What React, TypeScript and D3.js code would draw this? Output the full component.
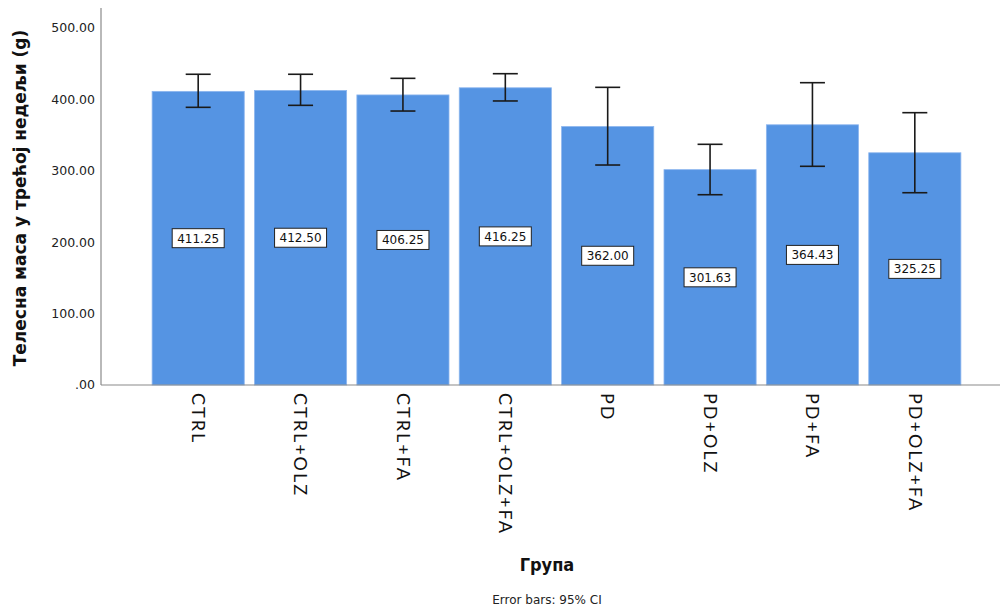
import React from "react";
import * as d3 from "d3";

const groups = ["CTRL", "CTRL+OLZ", "CTRL+FA", "CTRL+OLZ+FA", "PD", "PD+OLZ", "PD+FA", "PD+OLZ+FA"];
const means = [411.25, 412.5, 406.25, 416.25, 362.0, 301.63, 364.43, 325.25];
const ciLow = [388.9, 391.7, 383.7, 397.8, 308.1, 266.5, 306.3, 269.3];
const ciHigh = [435.2, 435.2, 429.5, 436.0, 416.9, 337.1, 423.4, 381.4];
const yTicks = [0, 100, 200, 300, 400, 500];

const width = 1002;
const height = 610;
const axisX = 101;
const axisY = 385;

const App = () => {
  const x = d3
    .scaleBand()
    .domain(groups)
    .range([147, 966])
    .paddingInner(0.1)
    .paddingOuter(0.05);

  const y = d3.scaleLinear().domain([0, 500]).range([axisY, 28]);

  const fmt = (v: number) => (v === 0 ? ".00" : v.toFixed(2));
  const bw = x.bandwidth();

  return (
    <svg width={width} height={height} style={{ position: "absolute", left: 0, top: 0 }}>
      <rect width={width} height={height} fill="#fff" />

      {/* bars */}
      {groups.map((g, i) => (
        <rect
          key={g}
          x={x(g)}
          y={y(means[i])}
          width={bw}
          height={axisY - y(means[i])}
          fill="#5594e3"
          stroke="#8db6ee"
          strokeWidth={0.8}
        />
      ))}

      {/* axes */}
      <line x1={axisX} x2={axisX} y1={8} y2={axisY} stroke="#8a8a8a" strokeWidth={1.2} />
      <line x1={axisX} x2={1000} y1={axisY} y2={axisY} stroke="#8a8a8a" strokeWidth={1.2} />

      {yTicks.map((t) => (
        <text
          key={t}
          x={95}
          y={y(t)}
          dy="0.35em"
          textAnchor="end"
          fontFamily="DejaVu Sans"
          fontSize={12.5}
          fill="#222"
        >
          {fmt(t)}
        </text>
      ))}

      {/* error bars */}
      {groups.map((g, i) => {
        const cx = (x(g) as number) + bw / 2;
        return (
          <g key={"e" + g} stroke="#1a1a1a" strokeWidth={1.6}>
            <line x1={cx} x2={cx} y1={y(ciHigh[i])} y2={y(ciLow[i])} />
            <line x1={cx - 12.5} x2={cx + 12.5} y1={y(ciHigh[i])} y2={y(ciHigh[i])} />
            <line x1={cx - 12.5} x2={cx + 12.5} y1={y(ciLow[i])} y2={y(ciLow[i])} />
          </g>
        );
      })}

      {/* value labels */}
      {groups.map((g, i) => {
        const cx = (x(g) as number) + bw / 2;
        const cy = y(means[i] / 2);
        return (
          <g key={"l" + g}>
            <rect x={cx - 26} y={cy - 9.5} width={52} height={19} fill="#fff" stroke="#222" strokeWidth={1} />
            <text
              x={cx}
              y={cy}
              dy="0.36em"
              textAnchor="middle"
              fontFamily="DejaVu Sans"
              fontSize={12}
              fill="#111"
            >
              {means[i].toFixed(2)}
            </text>
          </g>
        );
      })}

      {/* x tick labels */}
      {groups.map((g) => {
        const cx = (x(g) as number) + bw / 2;
        return (
          <text
            key={"t" + g}
            transform={`translate(${cx},393) rotate(90)`}
            dy="0.35em"
            textAnchor="start"
            fontFamily="Lato"
            fontSize={18}
            letterSpacing={2}
            fill="#111"
          >
            {g}
          </text>
        );
      })}

      {/* titles */}
      <text
        transform={`translate(20,198) rotate(-90)`}
        dy="0.35em"
        textAnchor="middle"
        fontFamily="DejaVu Sans"
        fontWeight="bold"
        fontSize={17}
        fill="#111"
      >
        Телесна маса у трећој недељи (g)
      </text>
      <text
        x={547}
        y={565}
        dy="0.35em"
        textAnchor="middle"
        fontFamily="DejaVu Sans Condensed, DejaVu Sans"
        fontWeight="bold"
        fontSize={18}
        fill="#111"
      >
        Група
      </text>
      <text
        x={547}
        y={600}
        dy="0.35em"
        textAnchor="middle"
        fontFamily="DejaVu Sans"
        fontSize={12}
        fill="#222"
      >
        Error bars: 95% CI
      </text>
    </svg>
  );
};

export default App;
